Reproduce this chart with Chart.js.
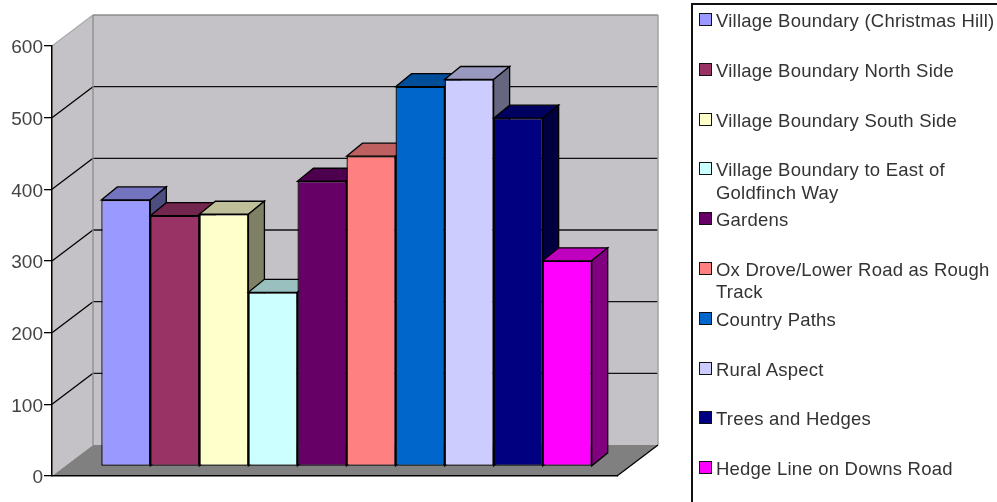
<!DOCTYPE html>
<html>
<head>
<meta charset="utf-8">
<title>Village chart</title>
<script src="https://cdn.jsdelivr.net/npm/chart.js@4"></script>
<style>
  html, body { margin: 0; padding: 0; background: #fff; overflow: hidden; }
  #wrap { position: relative; width: 997px; height: 502px; overflow: hidden; }
  #chart { position: absolute; left: 0; top: 0; }
  #legend {
    position: absolute; left: 691px; top: 3px; width: 400px; height: 600px;
    border: 2px solid #111; box-sizing: border-box; padding-top: 0;
    font-family: "Liberation Sans", sans-serif; font-size: 18.5px; letter-spacing: 0.22px; color: #333;
  }
  .row { position: relative; height: 49.8px; }
  .swatch {
    position: absolute; left: 6px; top: 8px; width: 11px; height: 11px;
    border: 1.5px solid #111; box-sizing: content-box;
  }
  .text { position: absolute; left: 23px; top: 5px; width: 284px; line-height: 22.5px; }
</style>
</head>
<body>
<div id="wrap">
  <canvas id="chart" width="997" height="502"></canvas>
  <div id="legend"></div>
</div>
<script>
var seriesNames = [
  "Village Boundary (Christmas Hill)",
  "Village Boundary North Side",
  "Village Boundary South Side",
  "Village Boundary to East of Goldfinch Way",
  "Gardens",
  "Ox Drove/Lower Road as Rough Track",
  "Country Paths",
  "Rural Aspect",
  "Trees and Hedges",
  "Hedge Line on Downs Road",
];
var seriesValues = [372, 350, 352, 243, 398, 433, 530, 540, 486, 287];
var seriesColors = [
  "#9999FF", "#993366", "#FFFFCC", "#CCFFFF", "#660066",
  "#FF8080", "#0066CC", "#CCCCFF", "#000080", "#FF00FF",
];

// depth of the box behind the front plane, and how far the bars sit inside it
var wallDepth = { x: 41, y: -31 };
var barShift = { x: 12, y: -9.5 };
var barDepth = { x: 16, y: -13 };

function shade(hex, f) {
  var n = parseInt(hex.slice(1), 16);
  var r = Math.round(((n >> 16) & 255) * f);
  var g = Math.round(((n >> 8) & 255) * f);
  var b = Math.round((n & 255) * f);
  return "rgb(" + r + "," + g + "," + b + ")";
}

function poly(ctx, pts, fill, stroke, width) {
  ctx.beginPath();
  pts.forEach(function (p, i) {
    if (i === 0) ctx.moveTo(p[0], p[1]);
    else ctx.lineTo(p[0], p[1]);
  });
  ctx.closePath();
  if (fill) {
    ctx.fillStyle = fill;
    ctx.fill();
  }
  if (stroke) {
    ctx.strokeStyle = stroke;
    ctx.lineWidth = width || 1;
    ctx.stroke();
  }
}

function line(ctx, x1, y1, x2, y2, color, width) {
  ctx.beginPath();
  ctx.moveTo(x1, y1);
  ctx.lineTo(x2, y2);
  ctx.strokeStyle = color;
  ctx.lineWidth = width;
  ctx.stroke();
}

var box3d = {
  id: "box3d",
  beforeDraw: function (chart) {
    var ctx = chart.ctx;
    var a = chart.chartArea;
    var yScale = chart.scales.y;
    var dx = wallDepth.x;
    var dy = wallDepth.y;
    var wall = "#C4C2C6";
    var edge = "#8c8c8c";
    ctx.save();
    // side wall and back wall
    poly(ctx, [[a.left, a.top], [a.left + dx, a.top + dy], [a.left + dx, a.bottom + dy], [a.left, a.bottom]], wall);
    poly(ctx, [[a.left + dx, a.top + dy], [a.right + dx, a.top + dy], [a.right + dx, a.bottom + dy], [a.left + dx, a.bottom + dy]], wall);
    // grid lines follow the y scale around the walls
    yScale.ticks.forEach(function (t) {
      var y = yScale.getPixelForValue(t.value);
      if (t.value === 0 || t.value === yScale.max) return;
      line(ctx, a.left, y, a.left + dx, y + dy, "#000", 1.3);
      line(ctx, a.left + dx, y + dy, a.right + dx, y + dy, "#111", 1.3);
    });
    line(ctx, a.left, a.top, a.left + dx, a.top + dy, "#aaa", 1.3);
    line(ctx, a.left + dx, a.top + dy, a.right + dx, a.top + dy, edge, 1.3);
    line(ctx, a.left + dx, a.top + dy, a.left + dx, a.bottom + dy, edge, 1.3);
    line(ctx, a.right + dx, a.top + dy, a.right + dx, a.bottom + dy, "#a0a0a0", 1.5);
    // floor
    poly(ctx, [[a.left, a.bottom], [a.left + dx, a.bottom + dy], [a.right + dx, a.bottom + dy], [a.right, a.bottom]], "#808080");
    line(ctx, a.right, a.bottom, a.right + dx, a.bottom + dy, "#000", 1.3);
    ctx.restore();
  },
  // bars are painted left to right here, each one covers the side face of the one before
  beforeDatasetsDraw: function (chart) {
    var ctx = chart.ctx;
    var dx = barDepth.x;
    var dy = barDepth.y;
    ctx.save();
    ctx.translate(barShift.x, barShift.y);
    chart.data.datasets.forEach(function (ds, i) {
      var meta = chart.getDatasetMeta(i);
      var bar = meta.data[0];
      var left = bar.x - bar.width / 2;
      var right = bar.x + bar.width / 2;
      poly(ctx, [[left, bar.y], [left + dx, bar.y + dy], [right + dx, bar.y + dy], [right, bar.y]], shade(seriesColors[i], 0.75), "#000", 1.3);
      poly(ctx, [[right, bar.y], [right + dx, bar.y + dy], [right + dx, bar.base + dy], [right, bar.base]], shade(seriesColors[i], 0.5), "#000", 1.3);
      meta.controller.draw();
    });
    ctx.restore();
    return false;
  },
};

var datasets = seriesNames.map(function (name, i) {
  return {
    label: name,
    data: [seriesValues[i]],
    backgroundColor: seriesColors[i],
    borderColor: "#000",
    borderWidth: 1.3,
    borderSkipped: false,
    barPercentage: 1,
    categoryPercentage: 0.868,
  };
});

var ctx = document.getElementById("chart").getContext("2d");

new Chart(ctx, {
  type: "bar",
  data: {
    labels: [""],
    datasets: datasets,
  },
  options: {
    responsive: false,
    animation: false,
    layout: {
      padding: { left: 0, right: 380, top: 46, bottom: 26 },
    },
    plugins: {
      legend: { display: false },
      tooltip: { enabled: false },
    },
    scales: {
      x: {
        afterFit: function (scale) {
          scale.height = 0;
        },
        grid: { display: false },
        ticks: { display: false },
        border: { color: "#000", width: 1.5 },
      },
      y: {
        min: 0,
        max: 600,
        afterFit: function (scale) {
          scale.width = 52;
        },
        grid: { drawOnChartArea: false, tickLength: 8, color: "#000", lineWidth: 1.3 },
        border: { color: "#000", width: 1.5 },
        ticks: {
          stepSize: 100,
          padding: 1,
          labelOffset: 2,
          color: "#444",
          font: { family: "Liberation Sans", size: 19 },
        },
      },
    },
  },
  plugins: [box3d],
});

// legend lives next to the canvas so the long names can wrap
var legend = document.getElementById("legend");
seriesNames.forEach(function (name, i) {
  var row = document.createElement("div");
  row.className = "row";
  var swatch = document.createElement("div");
  swatch.className = "swatch";
  swatch.style.background = seriesColors[i];
  var text = document.createElement("div");
  text.className = "text";
  text.textContent = name;
  row.appendChild(swatch);
  row.appendChild(text);
  legend.appendChild(row);
});
</script>
</body>
</html>
